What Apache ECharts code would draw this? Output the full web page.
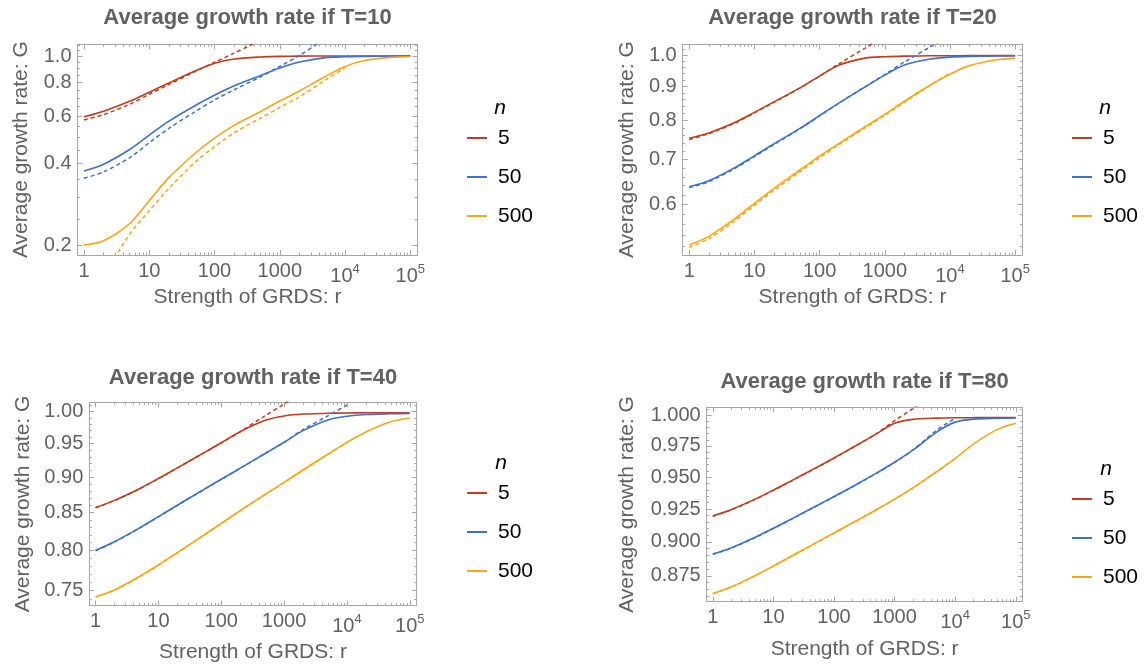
<!DOCTYPE html>
<html><head><meta charset="utf-8">
<script src="https://cdn.jsdelivr.net/npm/echarts@6/dist/echarts.min.js"></script>
<style>html,body{margin:0;padding:0;background:#fff}#c{width:1145px;height:669px}</style>
</head><body><div id="c"></div><script>
// ---------- data ----------
const rValues = [1, 2, 5, 10, 20, 50, 100, 200, 500, 1000, 2000, 5000, 10000, 20000, 50000, 100000];
const xTickValues = [1, 10, 100, 1000, 10000, 100000];
const seriesNames = ['5', '50', '500'];
const panelTitles = ['Average growth rate if T=10', 'Average growth rate if T=20', 'Average growth rate if T=40', 'Average growth rate if T=80'];
const xAxisName = 'Strength of GRDS: r';
const yAxisName = 'Average growth rate: G';
const legendTitle = 'n';

const yTicks10 = [0.2, 0.4, 0.6, 0.8, 1.0];
const yTicks20 = [0.6, 0.7, 0.8, 0.9, 1.0];
const yTicks40 = [0.75, 0.80, 0.85, 0.90, 0.95, 1.00];
const yTicks80 = [0.875, 0.900, 0.925, 0.950, 0.975, 1.000];

// T = 10 (solid = G, "a" = dashed approximation)
const g10_n5   = [0.596, 0.625, 0.680, 0.735, 0.795, 0.880, 0.940, 0.975, 0.992, 0.997, 0.999, 0.9997, 1.0, 1.0, 1.0, 1.0];
const g10_n5a  = [0.580, 0.607, 0.663, 0.722, 0.785, 0.875, 0.948, 1.025, 1.14, null, null, null, null, null, null, null];
const g10_n50  = [0.3755, 0.398, 0.451, 0.510, 0.574, 0.655, 0.716, 0.776, 0.846, 0.903, 0.950, 0.986, 0.994, 0.997, 0.999, 1.0];
const g10_n50a = [0.353, 0.373, 0.4205, 0.478, 0.540, 0.622, 0.688, 0.750, 0.836, 0.915, 1.005, 1.16, null, null, null, null];
const g10_n500 = [0.200, 0.2075, 0.240, 0.2917, 0.3548, 0.436, 0.497, 0.554, 0.622, 0.6816, 0.742, 0.840, 0.915, 0.962, 0.9887, 0.9943];
const g10_n500a= [null, 0.153, 0.219, 0.268, 0.324, 0.4043, 0.462, 0.520, 0.588, 0.6457, 0.707, 0.815, 0.905, null, null, null];
// T = 20
const g20_n5   = [0.753, 0.767, 0.795, 0.823, 0.853, 0.895, 0.932, 0.968, 0.9912, 0.996, 0.998, 0.999, 0.9993, 0.9995, 0.9996, 0.9996];
const g20_n5a  = [0.750, 0.765, 0.793, 0.8215, 0.852, 0.8945, 0.932, 0.9725, 1.026, 1.068, null, null, null, null, null, null];
const g20_n50  = [0.638, 0.651, 0.681, 0.709, 0.739, 0.779, 0.814, 0.850, 0.898, 0.935, 0.968, 0.988, 0.9945, 0.997, 0.9985, 0.999];
const g20_n50a = [0.636, 0.649, 0.679, 0.707, 0.737, 0.778, 0.813, 0.850, 0.899, 0.937, 0.978, 1.030, 1.070, null, null, null];
const g20_n500 = [0.5224, 0.538, 0.5715, 0.6026, 0.6343, 0.6755, 0.7085, 0.740, 0.7835, 0.8175, 0.855, 0.904, 0.938, 0.966, 0.985, 0.9903];
const g20_n500a= [0.5183, 0.534, 0.5675, 0.5985, 0.630, 0.6716, 0.7046, 0.737, 0.7803, 0.8145, 0.852, 0.903, 0.941, null, null, null];
// T = 40
const g40_n5   = [0.857, 0.867, 0.8835, 0.898, 0.9136, 0.9347, 0.9513, 0.9683, 0.9862, 0.9932, 0.9962, 0.9974, 0.998, 0.9982, 0.9984, 0.9984];
const g40_n5a  = [0.8567, 0.8667, 0.8832, 0.8977, 0.9133, 0.9345, 0.9511, 0.9683, 0.9936, 1.0124, 1.033, null, null, null, null, null];
const g40_n50  = [0.800, 0.8111, 0.8294, 0.8446, 0.8602, 0.8811, 0.8970, 0.9131, 0.935, 0.952, 0.970, 0.9868, 0.9927, 0.9955, 0.9967, 0.9972];
const g40_n50a = [0.7995, 0.8108, 0.8291, 0.8443, 0.860, 0.8809, 0.8968, 0.913, 0.935, 0.952, 0.9715, 0.9935, 1.0108, null, null, null];
const g40_n500 = [0.7425, 0.7506, 0.767, 0.7815, 0.797, 0.8186, 0.8355, 0.8528, 0.8755, 0.8925, 0.9105, 0.934, 0.9519, 0.968, 0.984, 0.990];
const g40_n500a= [0.742, 0.7502, 0.7666, 0.7811, 0.7966, 0.8182, 0.8351, 0.8524, 0.8751, 0.8921, 0.9101, 0.9336, 0.9517, null, null, null];
// T = 80
const g80_n5   = [0.9197, 0.9245, 0.9327, 0.9397, 0.9472, 0.9573, 0.9652, 0.9735, 0.9848, 0.9935, 0.9968, 0.9978, 0.9981, 0.9982, 0.9983, 0.9983];
const g80_n5a  = [0.9195, 0.9243, 0.9325, 0.9395, 0.947, 0.9571, 0.965, 0.9734, 0.985, 0.9957, 1.0058, 1.020, null, null, null, null];
const g80_n50  = [0.891, 0.8955, 0.9035, 0.9103, 0.9175, 0.9272, 0.9347, 0.9424, 0.9531, 0.9618, 0.9715, 0.9865, 0.9945, 0.997, 0.9977, 0.998];
const g80_n50a = [0.8908, 0.8953, 0.9033, 0.9101, 0.9173, 0.927, 0.9345, 0.9422, 0.9529, 0.9617, 0.9717, 0.988, 0.9978, null, null, null];
const g80_n500 = [0.8622, 0.8668, 0.8752, 0.8822, 0.8895, 0.8993, 0.9068, 0.9144, 0.9245, 0.9327, 0.9415, 0.9545, 0.9648, 0.9765, 0.9885, 0.9935];
const g80_n500a= [0.862, 0.8666, 0.875, 0.882, 0.8893, 0.8991, 0.9066, 0.9142, 0.9243, 0.9325, 0.9413, 0.9543, 0.965, null, null, null];

// ---------- style / layout ----------
const FONT = '"Liberation Sans", Arial, Helvetica, sans-serif';
const TEXT = '#616161';
const FRAME = '#a6a6a6';
const COLORS = ['#c9391a', '#3b6fd9', '#ffa310'];
const X_MIN = -0.1, X_MAX = 5.11;
const lg = Math.log10;

const panels = [
  { title: panelTitles[0], yTicks: yTicks10, yStep: 0.05, dec: 1,
    solid: [g10_n5, g10_n50, g10_n500], approx: [g10_n5a, g10_n50a, g10_n500a],
    grid: { left: 77.5, top: 44.3, width: 340, height: 210.7 }, yRange: [-0.736, 0.0433],
    yNameGap: 46, xNameGap: 30, titlePos: [247.5, 18], legendPos: [467, 127.5], nPos: [500, 108] },
  { title: panelTitles[1], yTicks: yTicks20, yStep: 0.02, dec: 1,
    solid: [g20_n5, g20_n50, g20_n500], approx: [g20_n5a, g20_n50a, g20_n500a],
    grid: { left: 682.7, top: 44.3, width: 339.6, height: 210.7 }, yRange: [-0.2969, 0.0167],
    yNameGap: 45, xNameGap: 30, titlePos: [852.5, 18], legendPos: [1072, 127.5], nPos: [1105, 108] },
  { title: panelTitles[2], yTicks: yTicks40, yStep: 0.01, dec: 2,
    solid: [g40_n5, g40_n50, g40_n500], approx: [g40_n5a, g40_n50a, g40_n500a],
    grid: { left: 89.3, top: 402.3, width: 327.4, height: 203.4 }, yRange: [-0.1356, 0.00657],
    yNameGap: 56, xNameGap: 36, titlePos: [253, 378], legendPos: [467, 482.5], nPos: [501, 463] },
  { title: panelTitles[3], yTicks: yTicks80, yStep: 0.005, dec: 3,
    solid: [g80_n5, g80_n50, g80_n500], approx: [g80_n5a, g80_n50a, g80_n500a],
    grid: { left: 706.7, top: 407.3, width: 315.8, height: 194.4 }, yRange: [-0.06737, 0.00297],
    yNameGap: 69, xNameGap: 37, titlePos: [864.6, 382], legendPos: [1072, 488.5], nPos: [1106, 469] }
];

// minor tick positions (log space)
const xMajors = xTickValues.map(v => lg(v));
const xMinors = [];
for (let k = 0; k < 5; k++) for (let m = 2; m <= 9; m++) xMinors.push(lg(m * Math.pow(10, k)));

function yMinorTicks(p) {
  const lo = Math.pow(10, p.yRange[0]), hi = Math.pow(10, p.yRange[1]);
  const out = [];
  for (let k = Math.ceil(lo / p.yStep - 1e-9); k * p.yStep <= hi + 1e-12; k++) {
    const v = +(k * p.yStep).toFixed(6);
    if (!p.yTicks.some(t => Math.abs(t - v) < 1e-9)) out.push(lg(v));
  }
  return out;
}

const labelStyle = { fontFamily: FONT, fontSize: 20, color: TEXT };
const nameStyle = { fontFamily: FONT, fontSize: 21, color: TEXT };

function xFmt(v) {
  const e = Math.round(v);
  return e <= 3 ? String(Math.pow(10, e)) : '{b|10}{s|' + e + '}';
}

const grids = [], xAxes = [], yAxes = [], series = [], legends = [], graphics = [];

panels.forEach((p, gi) => {
  grids.push(Object.assign({ containLabel: false, outerBoundsMode: 'none' }, p.grid));
  const lineOn = { show: true, onZero: false, lineStyle: { color: FRAME, width: 1 } };
  const lineOff = { show: false, onZero: false };
  const xb = { gridIndex: gi, type: 'value', min: X_MIN, max: X_MAX, splitLine: { show: false }, axisPointer: { show: false } };
  const majorTick = { show: true, inside: true, length: 5, customValues: xMajors, lineStyle: { color: FRAME, width: 1 } };
  const minorTick = { show: true, inside: true, length: 2.5, customValues: xMinors, lineStyle: { color: FRAME, width: 1 } };
  xAxes.push(Object.assign({}, xb, {
    position: 'bottom', name: xAxisName, nameLocation: 'middle', nameGap: p.xNameGap, nameTextStyle: nameStyle,
    axisLine: lineOn, axisTick: majorTick,
    axisLabel: Object.assign({ show: true, customValues: xMajors, formatter: xFmt, margin: 6,
      rich: { b: { fontFamily: FONT, fontSize: 20, color: TEXT, padding: [5, 0, 0, 0] },
              s: { fontFamily: FONT, fontSize: 13, color: TEXT, padding: [0, 0, 9, 0] } } }, labelStyle)
  }));
  xAxes.push(Object.assign({}, xb, { position: 'bottom', axisLine: lineOff, axisTick: minorTick, axisLabel: { show: false } }));
  xAxes.push(Object.assign({}, xb, { position: 'top', axisLine: lineOn, axisTick: majorTick, axisLabel: { show: false } }));
  xAxes.push(Object.assign({}, xb, { position: 'top', axisLine: lineOff, axisTick: minorTick, axisLabel: { show: false } }));

  const yMaj = p.yTicks.map(v => lg(v));
  const yMin = yMinorTicks(p);
  const yb = { gridIndex: gi, type: 'value', min: p.yRange[0], max: p.yRange[1], splitLine: { show: false }, axisPointer: { show: false } };
  const yMajorTick = { show: true, inside: true, length: 5, customValues: yMaj, lineStyle: { color: FRAME, width: 1 } };
  const yMinorTick = { show: true, inside: true, length: 2.5, customValues: yMin, lineStyle: { color: FRAME, width: 1 } };
  yAxes.push(Object.assign({}, yb, {
    position: 'left', name: yAxisName, nameLocation: 'middle', nameGap: p.yNameGap, nameRotate: 90, nameTextStyle: nameStyle,
    axisLine: lineOn, axisTick: yMajorTick,
    axisLabel: Object.assign({ show: true, customValues: yMaj, margin: 6,
      formatter: v => Math.pow(10, v).toFixed(p.dec) }, labelStyle)
  }));
  yAxes.push(Object.assign({}, yb, { position: 'left', axisLine: lineOff, axisTick: yMinorTick, axisLabel: { show: false } }));
  yAxes.push(Object.assign({}, yb, { position: 'right', axisLine: lineOn, axisTick: yMajorTick, axisLabel: { show: false } }));
  yAxes.push(Object.assign({}, yb, { position: 'right', axisLine: lineOff, axisTick: yMinorTick, axisLabel: { show: false } }));

  const toData = vals => rValues.map((r, i) => vals[i] == null ? null : [lg(r), lg(vals[i])]).filter(d => d);
  p.solid.forEach((vals, k) => {
    series.push({ type: 'line', name: seriesNames[k], xAxisIndex: gi * 4, yAxisIndex: gi * 4,
      data: toData(vals), showSymbol: false, symbol: 'none', smooth: 0.3, clip: true, silent: true,
      color: COLORS[k], itemStyle: { color: COLORS[k] }, lineStyle: { color: COLORS[k], width: 1.6 }, z: 3 });
  });
  p.approx.forEach((vals, k) => {
    series.push({ type: 'line', name: seriesNames[k] + ' approx', xAxisIndex: gi * 4, yAxisIndex: gi * 4,
      data: toData(vals), showSymbol: false, symbol: 'none', smooth: 0.3, clip: true, silent: true,
      color: COLORS[k], itemStyle: { color: COLORS[k] }, lineStyle: { color: COLORS[k], width: 1.5, type: [4, 3] }, z: 3 });
  });

  legends.push({ data: seriesNames, orient: 'vertical', left: p.legendPos[0], top: p.legendPos[1], padding: 0,
    icon: 'rect', itemWidth: 20, itemHeight: 2, itemGap: 18, selectedMode: false,
    textStyle: { fontFamily: FONT, fontSize: 21, lineHeight: 21, color: '#000', padding: [0, 0, 0, 6] } });

  graphics.push({ type: 'text', x: p.titlePos[0], y: p.titlePos[1], silent: true,
    style: { text: p.title, font: 'bold 22px ' + FONT, fill: TEXT, align: 'center', verticalAlign: 'middle' } });
  graphics.push({ type: 'text', x: p.nPos[0], y: p.nPos[1], silent: true,
    style: { text: legendTitle, font: 'italic 21px ' + FONT, fill: '#000', align: 'center', verticalAlign: 'middle' } });
});

const chart = echarts.init(document.getElementById('c'), null, { renderer: 'canvas' });
chart.setOption({
  backgroundColor: '#fff',
  animation: false,
  textStyle: { fontFamily: FONT },
  grid: grids, xAxis: xAxes, yAxis: yAxes, series: series, legend: legends, graphic: graphics
});
</script></body></html>
